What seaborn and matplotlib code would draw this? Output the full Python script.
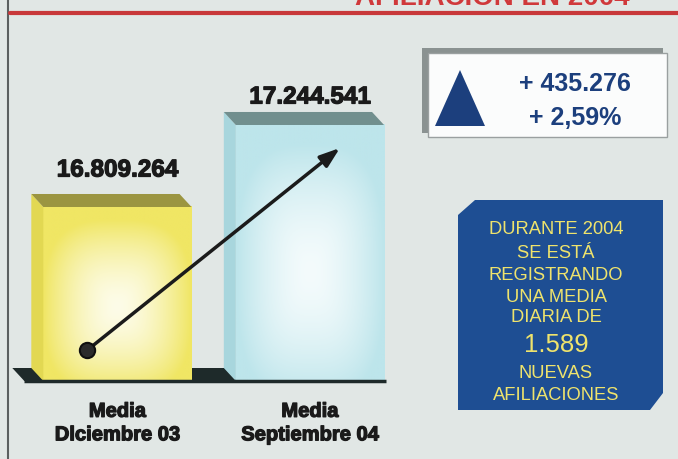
import numpy as np
import matplotlib
matplotlib.use("Agg")
import matplotlib.pyplot as plt
import matplotlib.patheffects as pe
from matplotlib.patches import Polygon, Rectangle
from matplotlib.colors import to_rgb
import seaborn as sns

# data
categories = ["Media\nDlciembre 03", "Media\nSeptiembre 04"]
afiliados = [16809264, 17244541]
bar_colors = ["#f0e664", "#bde5eb"]
top_colors = ["#9b9541", "#718f8e"]
side_colors = ["#e2d852", "#a8d6dd"]
highlight = ["#fdfce8", "#f4fbfc"]
diff_labels = ["+ 435.276", "+ 2,59%"]
info_lines = ["DURANTE 2004", "SE ESTÁ", "REGISTRANDO", "UNA MEDIA", "DIARIA DE",
              "1.589", "NUEVAS", "AFILIACIONES"]
titulo = "AFILIACIÓN EN 2004"

W, H = 678, 459
sns.set_theme(style="white")
plt.rcParams["font.family"] = ["Liberation Sans", "DejaVu Sans"]

fig = plt.figure(figsize=(W / 100, H / 100), dpi=100)
fig.patch.set_facecolor("#e1e7e5")
thick = [pe.withStroke(linewidth=0.9, foreground="#1a1a1a")]

# bar axes: bottom edge = floor line of the bars
base_px = 381
ax = fig.add_axes([0, (H - base_px) / H, 1, base_px / H])
ax.set_facecolor("none")
sns.barplot(x=categories, y=afiliados, hue=categories, palette=bar_colors, legend=False,
            width=0.77, saturation=1, linewidth=0, ax=ax)
xlim = (-0.61, 2.912)
ylim = (15.8856e6, 17.908e6)
ax.set_xlim(xlim)
ax.set_ylim(ylim)
sns.despine(ax=ax, left=True, bottom=True)
ax.set_yticks([])
ax.set_xlabel("")
ax.set_ylabel("")
ax.tick_params(axis="x", length=0, pad=15)
ax.set_xticks(range(len(categories)))
ax.set_xticklabels(categories, fontsize=14.5, fontweight="bold", color="#1a1a1a",
                   linespacing=1.3)
for lab in ax.get_xticklabels():
    lab.set_path_effects(thick)

px_x = (xlim[1] - xlim[0]) / W
px_y = (ylim[1] - ylim[0]) / base_px
dx, dy = -12 * px_x, 13 * px_y
y0 = ylim[0]

bars = ax.patches[:len(afiliados)]
bars = sorted(bars, key=lambda p: p.get_x())

# black floor
p0, p1 = bars
fx0 = p0.get_x() - 19 * px_x
fx1 = p1.get_x() + 1 * px_x
ax.add_patch(Polygon([(fx0, y0), (fx1, y0), (fx1 + dx, y0 + dy), (fx0 + dx, y0 + dy)],
                     closed=True, fc="#1e2a2a", ec="none", zorder=0.5, clip_on=False))
ax.plot([fx0, p1.get_x() + p1.get_width() + 2 * px_x], [y0, y0], color="#1e2a2a",
        lw=2.5, zorder=3, clip_on=False, solid_capstyle="butt")

# 3D faces + gradient front
u = np.linspace(-1, 1, 200)
U, V = np.meshgrid(u, u)
d = np.clip((np.abs(U) ** 3 + np.abs(V + 0.15) ** 3) ** (1 / 3), 0, 1) ** 1.6
gap_px = [37, 28]
for i, p in enumerate(bars):
    x0, w, h = p.get_x(), p.get_width(), p.get_height()
    x1 = x0 + w
    p.set_zorder(1)
    edge = np.array(to_rgb(bar_colors[i]))
    hl = np.array(to_rgb(highlight[i]))
    img = hl[None, None, :] * (1 - d[..., None]) + edge[None, None, :] * d[..., None]
    ax.imshow(img, extent=[x0, x1, y0, h], origin="lower", aspect="auto", zorder=1.2)
    ax.add_patch(Polygon([(x0, y0), (x0, h), (x0 + dx, h + dy), (x0 + dx, y0 + dy)],
                         fc=side_colors[i], ec="none", zorder=2))
    ax.add_patch(Polygon([(x0, h), (x1, h), (x1 + dx, h + dy), (x0 + dx, h + dy)],
                         fc=top_colors[i], ec="none", zorder=2))
    ax.annotate(f"{afiliados[i]:,}".replace(",", "."), (x0 + w / 2, h),
                xytext=(0, gap_px[i]), textcoords="offset pixels", ha="center", va="center",
                fontsize=17.5, fontweight="bold", color="#1a1a1a", path_effects=thick)
ax.set_xlim(xlim)
ax.set_ylim(ylim)

# arrow from first bar to second
start = (p0.get_x() + p0.get_width() / 2 - 30 * px_x, y0 + 31 * px_y)
end = (p1.get_x() + p1.get_width() / 2 + 30 * px_x, afiliados[1] - 23 * px_y)
ax.annotate("", xy=end, xytext=start,
            arrowprops=dict(arrowstyle="-|>,head_length=1.0,head_width=0.35", lw=2.5,
                            color="#1b1b1b", shrinkA=0, shrinkB=0), zorder=5)
ax.plot(*start, "o", ms=11, mfc="#2b2b2b", mec="#101010", mew=1.5, zorder=6)

# overlay in pixel coordinates for the decorations
ov = fig.add_axes([0, 0, 1, 1])
ov.set_xlim(0, W)
ov.set_ylim(H, 0)
ov.axis("off")
ov.patch.set_alpha(0)

ov.plot([8, 8], [0, H], color="#5a5f5f", lw=1.5)
ov.plot([10, W], [13, 13], color="#c8383a", lw=3)
# title is cropped at the top edge in the scan
ov.text(492, 5, titulo, ha="center", va="baseline", fontsize=20, fontweight="bold",
        color="#d0393b")

ov.add_patch(Rectangle((422, 48), 241, 85, fc="#8a9291", ec="none"))
ov.add_patch(Rectangle((428, 53), 239, 84, fc="#fbfcfc", ec="#9aa0a0", lw=1))
ov.add_patch(Polygon([(460, 70), (435, 126), (485, 126)], fc="#1c3f7d", ec="none"))
ov.text(575, 84, diff_labels[0], ha="center", va="center", fontsize=18,
        fontweight="bold", color="#1c3f7d")
ov.text(575, 118, diff_labels[1], ha="center", va="center", fontsize=18,
        fontweight="bold", color="#1c3f7d")

ov.add_patch(Polygon([(458, 215), (475, 200), (663, 200), (663, 393), (650, 410), (458, 410)],
                     fc="#1e4e93", ec="none"))
ys = [230, 253, 275, 297, 318, 345, 373, 395]
for txt, yy in zip(info_lines, ys):
    ov.text(556, yy, txt, ha="center", va="center", color="#efe36c",
            fontsize=18.5 if txt[0].isdigit() else 13.2)

fig.savefig("out.png", dpi=100, facecolor=fig.get_facecolor())
